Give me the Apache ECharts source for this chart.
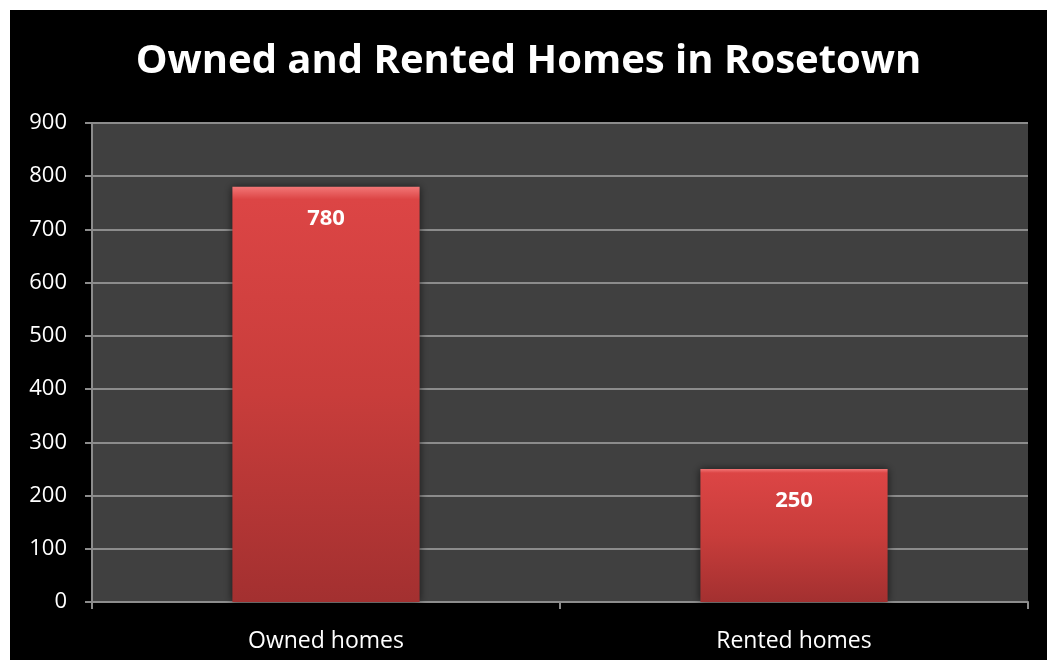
<!DOCTYPE html>
<html>
<head>
<meta charset="utf-8">
<title>Owned and Rented Homes in Rosetown</title>
<script src="https://cdn.jsdelivr.net/npm/echarts@6/dist/echarts.min.js"></script>
<style>
  html, body {
    margin: 0;
    padding: 0;
    background: #ffffff;
  }
  #main {
    position: absolute;
    left: 10px;
    top: 10px;
    width: 1037px;
    height: 650px;
    background: #000000;
  }
</style>
</head>
<body>
<div id="main"></div>
<script>
// data
const categories = ["Owned homes", "Rented homes"];
const homes = [780, 250];
const yTicks = [0, 100, 200, 300, 400, 500, 600, 700, 800, 900];

const myChart = echarts.init(document.getElementById("main"));

const option = {
  backgroundColor: "#000000",
  animation: false,
  title: {
    text: "Owned and Rented Homes in Rosetown",
    left: "center",
    top: 27,
    textStyle: {
      color: "#ffffff",
      fontFamily: "Open Sans",
      fontWeight: "bold",
      fontSize: 40
    }
  },
  grid: {
    left: 82,
    top: 113,
    width: 936,
    height: 479,
    show: true,
    backgroundColor: "#404040",
    borderWidth: 0
  },
  xAxis: {
    type: "category",
    data: categories,
    axisLine: { show: true, lineStyle: { color: "#8c8c8c", width: 2 } },
    axisTick: { show: true, length: 7, alignWithLabel: false, lineStyle: { color: "#8c8c8c", width: 2 } },
    axisLabel: {
      color: "#ffffff",
      fontFamily: "Open Sans",
      fontSize: 23,
      margin: 28
    }
  },
  yAxis: {
    type: "value",
    min: yTicks[0],
    max: yTicks[yTicks.length - 1],
    interval: 100,
    axisLine: { show: true, lineStyle: { color: "#8c8c8c", width: 2 } },
    axisTick: { show: true, length: 7, lineStyle: { color: "#8c8c8c", width: 2 } },
    splitLine: { show: true, lineStyle: { color: "#8c8c8c", width: 2 } },
    axisLabel: {
      color: "#ffffff",
      fontFamily: "Open Sans",
      fontSize: 22,
      margin: 25
    }
  },
  series: [
    {
      name: "Homes",
      type: "bar",
      data: homes,
      barWidth: "40%",
      itemStyle: {
        color: new echarts.graphic.LinearGradient(0, 0, 0, 1, [
          { offset: 0, color: "#f27676" },
          { offset: 0.03, color: "#dc4545" },
          { offset: 0.5, color: "#c83d3b" },
          { offset: 1, color: "#a33030" }
        ]),
        shadowColor: "rgba(0, 0, 0, 0.6)",
        shadowBlur: 8
      },
      label: {
        show: true,
        position: "insideTop",
        distance: 21,
        color: "#ffffff",
        fontFamily: "Open Sans",
        fontWeight: "bold",
        fontSize: 22
      }
    }
  ]
};

myChart.setOption(option);
</script>
</body>
</html>
